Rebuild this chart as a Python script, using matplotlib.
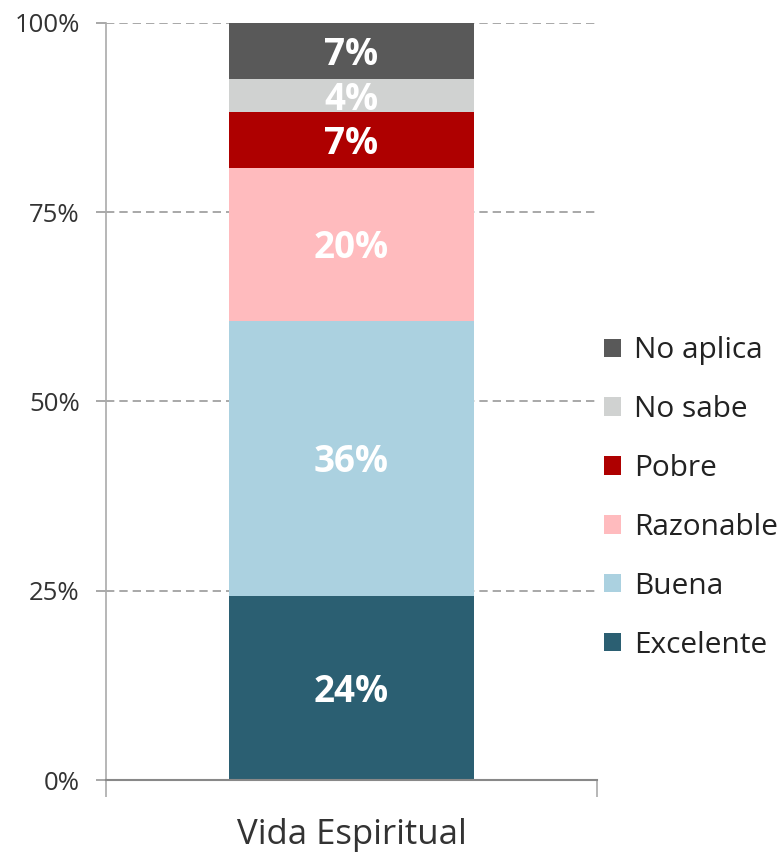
import matplotlib
matplotlib.use("Agg")
import matplotlib.pyplot as plt
from matplotlib.patches import Patch

plt.rcParams['font.family'] = ['Open Sans', 'DejaVu Sans']

category = "Vida Espiritual"
series = ["Excelente", "Buena", "Razonable", "Pobre", "No sabe", "No aplica"]
values = [24.3, 36.4, 20.1, 7.4, 4.4, 7.4]
colors = ["#2B5F72", "#ABD1E0", "#FFBBBE", "#AE0000", "#D0D2D1", "#595959"]
yticks = [0, 25, 50, 75, 100]
ytick_labels = ["0%", "25%", "50%", "75%", "100%"]

fig = plt.figure(figsize=(7.84, 8.55), dpi=100)
ax = fig.add_axes([106/784, 1-780/855, (597-106)/784, (780-23)/855])

bottom = 0.0
for i, (name, v, c) in enumerate(zip(series, values, colors)):
    ax.bar(0, v, width=0.5, bottom=bottom, color=c, zorder=3+2*i, label=name)
    ax.annotate(f"{v:.0f}%", xy=(0, bottom + v/2), xytext=(0, -4),
                textcoords='offset pixels', ha='center', va='center',
                color='white', fontsize=26.5, fontweight='bold', zorder=4+2*i)
    bottom += v

ax.set_xlim(-0.5, 0.5)
ax.set_ylim(0, 100)
ax.set_yticks(yticks)
ax.set_yticklabels(ytick_labels, fontsize=18.5, color='#333333')
ax.yaxis.grid(True, linestyle=(0, (5, 3)), color='#999999', linewidth=1.2, zorder=1)
ax.tick_params(axis='y', length=7, color='#999999', width=1.2, pad=12)

ax.set_xticks([0])
ax.set_xticklabels([category], fontsize=25, color='#333333')
ax.set_xticks([-0.5, 0.5], minor=True)
ax.tick_params(axis='x', which='major', length=0, pad=27)
ax.tick_params(axis='x', which='minor', length=12, color='#AAAAAA', width=1.2)

for s in ['top', 'right']:
    ax.spines[s].set_visible(False)
ax.spines['left'].set_color('#AAAAAA')
ax.spines['left'].set_linewidth(1.2)
ax.spines['bottom'].set_color('#888888')
ax.spines['bottom'].set_linewidth(1.5)
ax.spines['bottom'].set_zorder(20)

handles = [Patch(facecolor=c, label=n) for n, c in zip(series, colors)][::-1]
fig.legend(handles=handles, loc='center left', bbox_to_anchor=(604/784, 1-498/855),
           frameon=False, fontsize=21.5, handlelength=0.57, handleheight=0.57,
           handletextpad=0.43, labelspacing=1.0, labelcolor='#222222', borderaxespad=0,
           borderpad=0)

fig.savefig("out.png", dpi=100)
